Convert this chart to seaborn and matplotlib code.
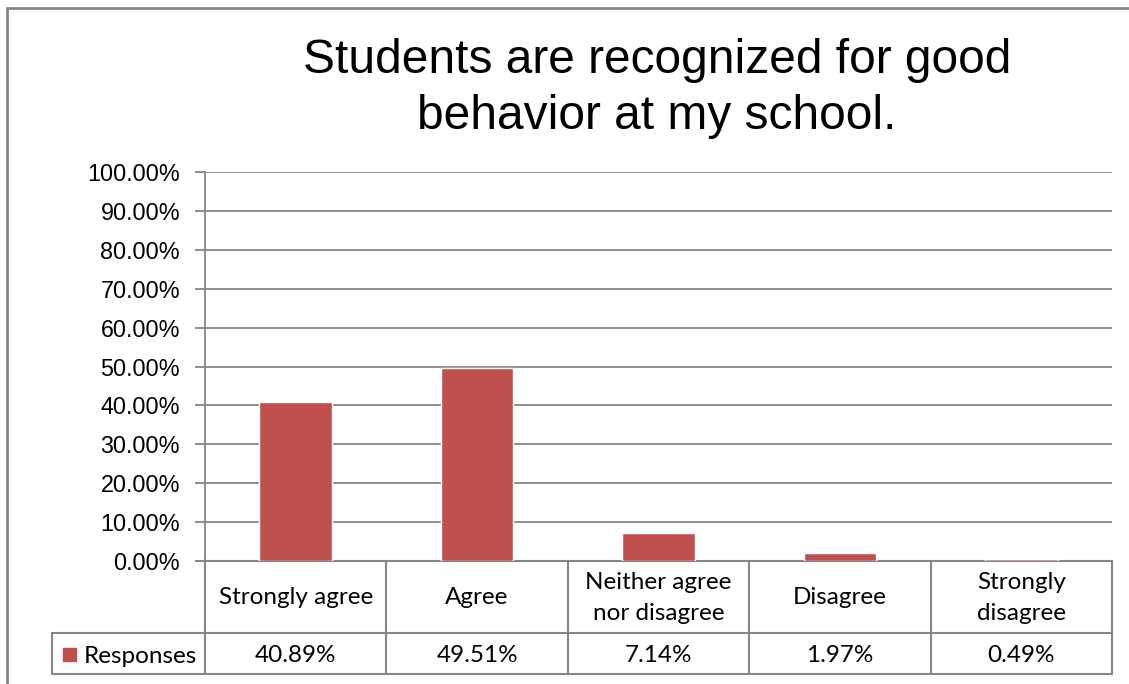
import matplotlib
matplotlib.use("Agg")
import matplotlib.pyplot as plt
from matplotlib.lines import Line2D
from matplotlib.patches import Rectangle
import seaborn as sns
import pandas as pd

# ---- data ----
title = "Students are recognized for good\nbehavior at my school."
categories = ["Strongly agree", "Agree", "Neither agree\nnor disagree", "Disagree", "Strongly\ndisagree"]
values = [40.89, 49.51, 7.14, 1.97, 0.49]
value_labels = ["40.89%", "49.51%", "7.14%", "1.97%", "0.49%"]
series_name = "Responses"
y_ticks = [0, 10, 20, 30, 40, 50, 60, 70, 80, 90, 100]

BAR = "#C0504D"
GRID = "#868686"
W, H = 1129, 684

sns.set_theme(style="white")
plt.rcParams["font.family"] = ["Liberation Sans", "DejaVu Sans"]

fig = plt.figure(figsize=(W / 100, H / 100), dpi=100)

def fx(px):
    return px / W

def fy(py):
    return 1 - py / H

# axes area (pixels)
L, R, T, B = 205, 1112, 172, 561
ax = fig.add_axes([fx(L), fy(B), fx(R) - fx(L), fy(T) - fy(B)])

df = pd.DataFrame({"cat": categories, "val": values})
sns.barplot(data=df, x="cat", y="val", color=BAR, width=0.4, ax=ax, saturation=1, zorder=3)
ax.set_xlim(-0.5, len(categories) - 0.5)
ax.set_ylim(0, 100)
ax.set_yticks(y_ticks)
ax.set_yticklabels([f"{t:.2f}%" for t in y_ticks], fontsize=16.8, color="#000000")
ax.set_xticks([])
ax.set_xlabel("")
ax.set_ylabel("")
ax.yaxis.grid(True, color=GRID, lw=1.3, zorder=0)
ax.set_axisbelow(True)
for s in ["top", "right", "bottom"]:
    ax.spines[s].set_visible(False)
ax.spines["left"].set_color(GRID)
ax.spines["left"].set_linewidth(1.3)
ax.tick_params(axis="y", length=7, width=1.3, color=GRID, pad=11, left=True)
# baseline (top edge of the data table), drawn beneath the bars
ax.axhline(0, xmin=(196 - L) / (R - L), xmax=1, color=GRID, lw=1.5,
           clip_on=False, zorder=1)

# title
fig.text(fx(657), fy(88.5), title, ha="center", va="center", fontsize=34.5,
         linespacing=1.3, color="#000000")

# outer chart border
fig.add_artist(Rectangle((fx(7), fy(760)), fx(1300) - fx(7), fy(8) - fy(760),
                         transform=fig.transFigure, fill=False, ec=GRID, lw=2))

# data table
def hline(x0, x1, y):
    fig.add_artist(Line2D([fx(x0), fx(x1)], [fy(y), fy(y)], transform=fig.transFigure,
                          color=GRID, lw=1.5))

def vline(x, y0, y1):
    fig.add_artist(Line2D([fx(x), fx(x)], [fy(y0), fy(y1)], transform=fig.transFigure,
                          color=GRID, lw=1.5))

row1_top, row1_bot, row2_bot = 561, 633, 674
hline(52, R, row1_bot)
hline(52, R, row2_bot)
vline(52, row1_bot, row2_bot)
ncol = len(categories)
colw = (R - L) / ncol
for i in range(ncol + 1):
    vline(L + i * colw, row1_top, row2_bot)

tfont = ["Lato", "DejaVu Sans"]
TS = 17.5
for i, (c, v) in enumerate(zip(categories, value_labels)):
    cx = L + (i + 0.5) * colw
    fig.text(fx(cx), fy((row1_top + row1_bot) / 2 + 1), c, ha="center", va="center",
             fontsize=TS, family=tfont, linespacing=1.58, color="#000000")
    fig.text(fx(cx), fy((row1_bot + row2_bot) / 2 + 2), v, ha="center", va="center",
             fontsize=TS, family=tfont, color="#000000")

# legend key in table
fig.add_artist(Rectangle((fx(63), fy(661)), fx(13), fy(648) - fy(661),
                         transform=fig.transFigure, color=BAR))
fig.text(fx(84), fy(656.5), series_name, ha="left", va="center", fontsize=TS,
         family=tfont, color="#000000")

fig.savefig("out.png", dpi=100, facecolor="white")
